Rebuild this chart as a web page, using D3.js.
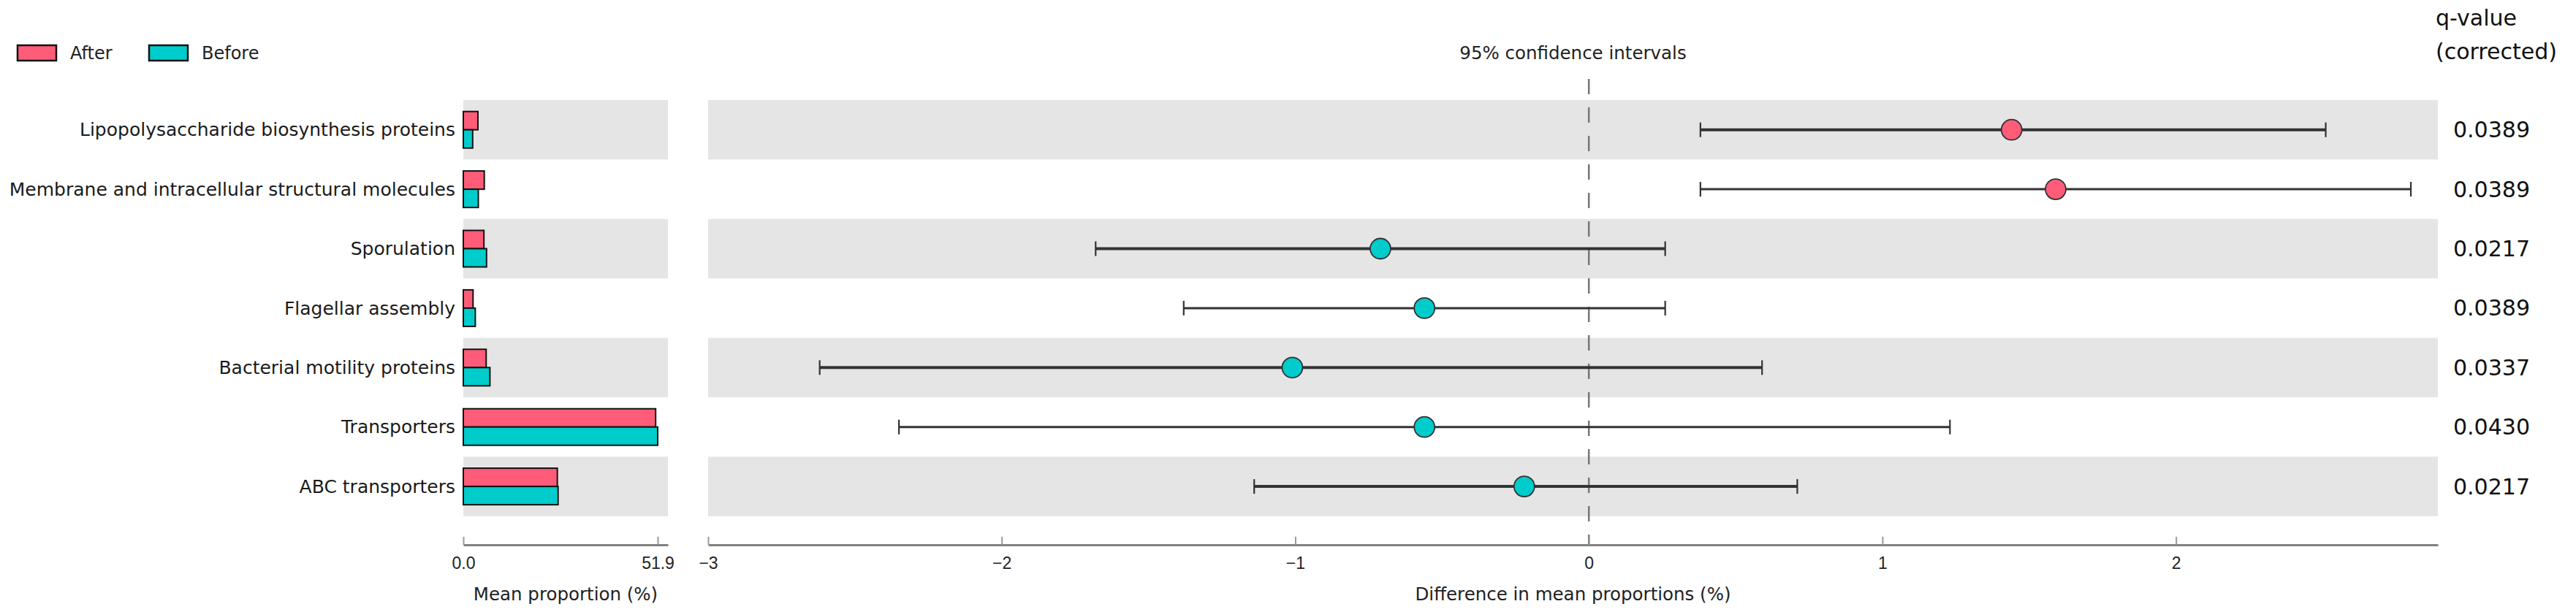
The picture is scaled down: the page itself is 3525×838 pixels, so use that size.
<!DOCTYPE html>
<html>
<head>
<meta charset="utf-8">
<script src="https://cdnjs.cloudflare.com/ajax/libs/d3/7.8.5/d3.min.js"></script>
<style>
  html, body { margin: 0; padding: 0; background: #fff; }
  svg { display: block; font-family: "DejaVu Sans", sans-serif; }
  .axis .domain { stroke: #808080; stroke-width: 3; }
  .axis .tick line { stroke: #999; stroke-width: 2; }
  .axis .tick text { font-size: 23px; fill: #222; }
</style>
</head>
<body>
<svg id="chart" width="3525" height="838"></svg>
<script>
'use strict';

// categories, top to bottom
var categories = [
  "Lipopolysaccharide biosynthesis proteins",
  "Membrane and intracellular structural molecules",
  "Sporulation",
  "Flagellar assembly",
  "Bacterial motility proteins",
  "Transporters",
  "ABC transporters"
];

// mean proportions (%)
var after_values  = [3.9, 5.6, 5.5, 2.6, 6.1, 51.35, 25.1];
var before_values = [2.5, 4.0, 6.2, 3.2, 7.1, 51.9, 25.3];

// difference in mean proportions (%) with 95% CI
var diff_values = [1.44, 1.59, -0.71, -0.56, -1.01, -0.56, -0.22];
var ci_low      = [0.38, 0.38, -1.68, -1.38, -2.62, -2.35, -1.14];
var ci_high     = [2.51, 2.80, 0.26, 0.26, 0.59, 1.23, 0.71];

var q_values = ["0.0389", "0.0389", "0.0217", "0.0389", "0.0337", "0.0430", "0.0217"];

var groups = ["After", "Before"];
var group_colors = { "After": "#ff5c7a", "Before": "#00cccc" };

var prop_ticks = [0, 51.9];
var diff_ticks = [-3, -2, -1, 0, 1, 2];

var svg = d3.select("#chart");

var row_top = 137, row_h = 81.4;
var axis_y = 746;

var y = d3.scaleBand()
  .domain(categories)
  .range([row_top, row_top + row_h * categories.length])
  .padding(0);

var x_prop = d3.scaleLinear().domain([0, 54.63]).range([634, 914]);
var x_diff = d3.scaleLinear().domain([-3, 2.892]).range([969, 3336]);

// alternating bands
[x_prop, x_diff].forEach(function(sc) {
  svg.append("g").selectAll("rect")
    .data(categories.filter(function(d, i) { return i % 2 === 0; }))
  .enter().append("rect")
    .attr("x", sc.range()[0])
    .attr("width", sc.range()[1] - sc.range()[0])
    .attr("y", function(d) { return y(d); })
    .attr("height", y.bandwidth())
    .attr("fill", "#e5e5e5");
});

// category labels
svg.append("g").selectAll("text")
  .data(categories)
.enter().append("text")
  .attr("x", 623)
  .attr("y", function(d) { return y(d) + y.bandwidth() / 2; })
  .attr("dy", "0.35em")
  .attr("text-anchor", "end")
  .style("font-size", "25px")
  .attr("fill", "#1a1a1a")
  .text(function(d) { return d; });

// mean proportion bars
var bar_h = 25;
var bar_g = svg.append("g");
bar_g.selectAll(".bar-after")
  .data(categories)
.enter().append("rect")
  .attr("x", x_prop(0))
  .attr("y", function(d) { return y(d) + y.bandwidth() / 2 - bar_h; })
  .attr("width", function(d, i) { return x_prop(after_values[i]) - x_prop(0); })
  .attr("height", bar_h)
  .attr("fill", group_colors.After)
  .attr("stroke", "#111")
  .attr("stroke-width", 2);
bar_g.selectAll(".bar-before")
  .data(categories)
.enter().append("rect")
  .attr("x", x_prop(0))
  .attr("y", function(d) { return y(d) + y.bandwidth() / 2; })
  .attr("width", function(d, i) { return x_prop(before_values[i]) - x_prop(0); })
  .attr("height", bar_h)
  .attr("fill", group_colors.Before)
  .attr("stroke", "#111")
  .attr("stroke-width", 2);

// zero line
svg.append("line")
  .attr("x1", x_diff(0)).attr("x2", x_diff(0))
  .attr("y1", 108).attr("y2", axis_y)
  .attr("stroke", "#777")
  .attr("stroke-width", 2.5)
  .attr("stroke-dasharray", "21,18");

// confidence intervals
var ci_g = svg.append("g");
categories.forEach(function(cat, i) {
  var cy = y(cat) + y.bandwidth() / 2;
  var lw = i % 2 === 0 ? 4 : 3;
  ci_g.append("line")
    .attr("x1", x_diff(ci_low[i])).attr("x2", x_diff(ci_high[i]))
    .attr("y1", cy).attr("y2", cy)
    .attr("stroke", "#333").attr("stroke-width", lw);
  [ci_low[i], ci_high[i]].forEach(function(v) {
    ci_g.append("line")
      .attr("x1", x_diff(v)).attr("x2", x_diff(v))
      .attr("y1", cy - 10).attr("y2", cy + 10)
      .attr("stroke", "#333").attr("stroke-width", 2.2);
  });
  ci_g.append("circle")
    .attr("cx", x_diff(diff_values[i]))
    .attr("cy", cy)
    .attr("r", 14)
    .attr("fill", diff_values[i] > 0 ? group_colors.After : group_colors.Before)
    .attr("stroke", "#333")
    .attr("stroke-width", 1.8);
});

// axes
svg.append("g")
  .attr("class", "axis")
  .attr("transform", "translate(0," + axis_y + ")")
  .call(d3.axisBottom(x_prop).tickValues(prop_ticks).tickFormat(d3.format(".1f"))
    .tickSizeInner(-11).tickSizeOuter(0).tickPadding(17));

svg.append("g")
  .attr("class", "axis")
  .attr("transform", "translate(0," + axis_y + ")")
  .call(d3.axisBottom(x_diff).tickValues(diff_ticks).tickFormat(d3.format("d"))
    .tickSizeInner(-11).tickSizeOuter(0).tickPadding(17));

svg.selectAll(".axis .domain").attr("stroke-width", 3);

// axis titles
svg.append("text")
  .attr("x", (x_prop.range()[0] + x_prop.range()[1]) / 2)
  .attr("y", 813).attr("dy", "0.35em")
  .attr("text-anchor", "middle")
  .style("font-size", "24.5px").attr("fill", "#222")
  .text("Mean proportion (%)");

svg.append("text")
  .attr("x", (x_diff.range()[0] + x_diff.range()[1]) / 2)
  .attr("y", 813).attr("dy", "0.35em")
  .attr("text-anchor", "middle")
  .style("font-size", "24.5px").attr("fill", "#222")
  .text("Difference in mean proportions (%)");

svg.append("text")
  .attr("x", (x_diff.range()[0] + x_diff.range()[1]) / 2)
  .attr("y", 72).attr("dy", "0.35em")
  .attr("text-anchor", "middle")
  .style("font-size", "24.5px").attr("fill", "#222")
  .text("95% confidence intervals");

// q-values
svg.append("text")
  .attr("x", 3333).attr("y", 24).attr("dy", "0.35em")
  .style("font-size", "30px").attr("fill", "#111")
  .text("q-value");
svg.append("text")
  .attr("x", 3333).attr("y", 70).attr("dy", "0.35em")
  .style("font-size", "30px").attr("fill", "#111")
  .text("(corrected)");

svg.append("g").selectAll("text")
  .data(q_values)
.enter().append("text")
  .attr("x", 3357)
  .attr("y", function(d, i) { return y(categories[i]) + y.bandwidth() / 2; })
  .attr("dy", "0.35em")
  .style("font-size", "30px")
  .attr("fill", "#111")
  .text(function(d) { return d; });

// legend
var legend_x = [24, 204];
var legend = svg.append("g").selectAll("g")
  .data(groups)
.enter().append("g")
  .attr("transform", function(d, i) { return "translate(" + legend_x[i] + ",62)"; });
legend.append("rect")
  .attr("width", 53).attr("height", 21)
  .attr("fill", function(d) { return group_colors[d]; })
  .attr("stroke", "#111").attr("stroke-width", 2.5);
legend.append("text")
  .attr("x", 72).attr("y", 11).attr("dy", "0.35em")
  .style("font-size", "24px").attr("fill", "#222")
  .text(function(d) { return d; });
</script>
</body>
</html>
